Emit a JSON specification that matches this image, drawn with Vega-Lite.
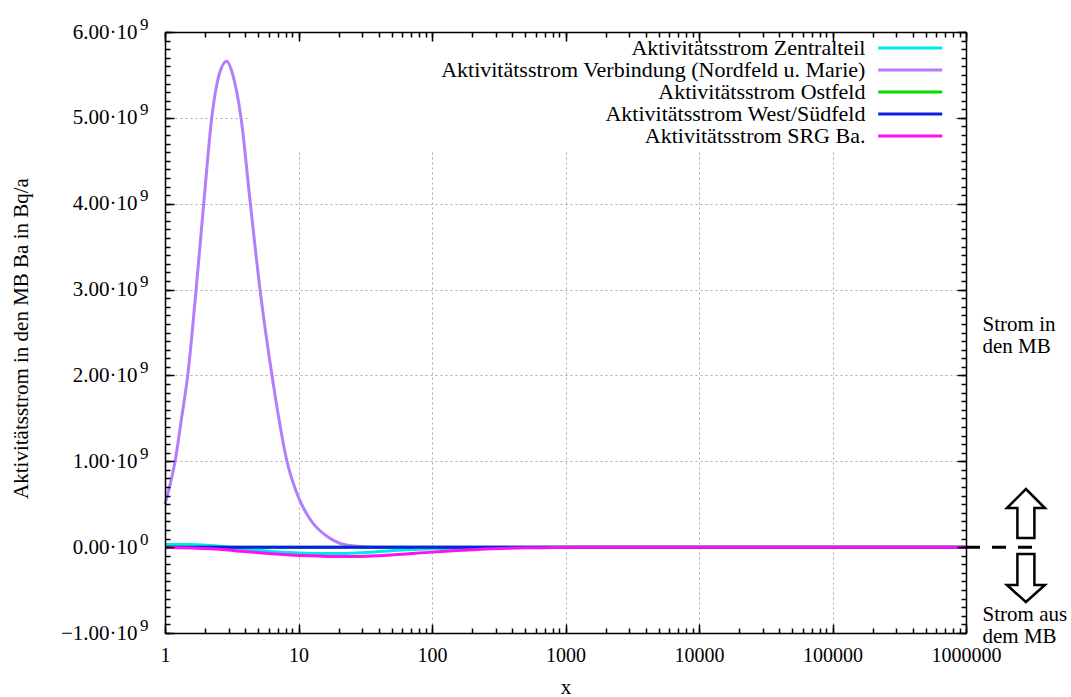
{
  "$schema": "https://vega.github.io/schema/vega-lite/v6.json",
  "width": 801,
  "height": 601,
  "autosize": {"type": "none"},
  "padding": {"left": 165, "top": 32, "right": 105, "bottom": 64},
  "background": "white",
  "config": {
    "view": {"stroke": null},
    "font": "Liberation Serif",
    "axis": {
      "labelFont": "Liberation Serif",
      "titleFont": "Liberation Serif",
      "labelFontSize": 20,
      "titleFontSize": 21,
      "titleFontWeight": "normal",
      "labelColor": "black",
      "titleColor": "black",
      "labelFlush": false,
      "labelOverlap": false
    }
  },
  "datasets": {
    "lines": [
      {"series": "Aktivitätsstrom Zentralteil", "x": 1, "y": 30000000},
      {"series": "Aktivitätsstrom Zentralteil", "x": 1.5, "y": 30000000},
      {"series": "Aktivitätsstrom Zentralteil", "x": 2.2, "y": 18000000},
      {"series": "Aktivitätsstrom Zentralteil", "x": 3.9, "y": -20000000},
      {"series": "Aktivitätsstrom Zentralteil", "x": 6, "y": -48000000},
      {"series": "Aktivitätsstrom Zentralteil", "x": 10, "y": -68000000},
      {"series": "Aktivitätsstrom Zentralteil", "x": 16.5, "y": -75000000},
      {"series": "Aktivitätsstrom Zentralteil", "x": 30, "y": -65000000},
      {"series": "Aktivitätsstrom Zentralteil", "x": 52, "y": -40000000},
      {"series": "Aktivitätsstrom Zentralteil", "x": 100, "y": -20000000},
      {"series": "Aktivitätsstrom Zentralteil", "x": 290, "y": -5000000},
      {"series": "Aktivitätsstrom Zentralteil", "x": 1000, "y": 0},
      {"series": "Aktivitätsstrom Zentralteil", "x": 10000, "y": 0},
      {"series": "Aktivitätsstrom Zentralteil", "x": 100000, "y": 0},
      {"series": "Aktivitätsstrom Zentralteil", "x": 1000000, "y": 0},

      {"series": "Aktivitätsstrom Verbindung (Nordfeld u. Marie)", "x": 1, "y": 500000000},
      {"series": "Aktivitätsstrom Verbindung (Nordfeld u. Marie)", "x": 1.1, "y": 750000000},
      {"series": "Aktivitätsstrom Verbindung (Nordfeld u. Marie)", "x": 1.19, "y": 1000000000},
      {"series": "Aktivitätsstrom Verbindung (Nordfeld u. Marie)", "x": 1.33, "y": 1500000000},
      {"series": "Aktivitätsstrom Verbindung (Nordfeld u. Marie)", "x": 1.48, "y": 2000000000},
      {"series": "Aktivitätsstrom Verbindung (Nordfeld u. Marie)", "x": 1.71, "y": 3000000000},
      {"series": "Aktivitätsstrom Verbindung (Nordfeld u. Marie)", "x": 1.95, "y": 4000000000},
      {"series": "Aktivitätsstrom Verbindung (Nordfeld u. Marie)", "x": 2.24, "y": 5000000000},
      {"series": "Aktivitätsstrom Verbindung (Nordfeld u. Marie)", "x": 2.55, "y": 5510000000},
      {"series": "Aktivitätsstrom Verbindung (Nordfeld u. Marie)", "x": 2.9, "y": 5660000000},
      {"series": "Aktivitätsstrom Verbindung (Nordfeld u. Marie)", "x": 3.21, "y": 5510000000},
      {"series": "Aktivitätsstrom Verbindung (Nordfeld u. Marie)", "x": 3.71, "y": 5000000000},
      {"series": "Aktivitätsstrom Verbindung (Nordfeld u. Marie)", "x": 4.36, "y": 4000000000},
      {"series": "Aktivitätsstrom Verbindung (Nordfeld u. Marie)", "x": 5.15, "y": 3000000000},
      {"series": "Aktivitätsstrom Verbindung (Nordfeld u. Marie)", "x": 6.33, "y": 2000000000},
      {"series": "Aktivitätsstrom Verbindung (Nordfeld u. Marie)", "x": 8.2, "y": 1000000000},
      {"series": "Aktivitätsstrom Verbindung (Nordfeld u. Marie)", "x": 10, "y": 580000000},
      {"series": "Aktivitätsstrom Verbindung (Nordfeld u. Marie)", "x": 12.4, "y": 310000000},
      {"series": "Aktivitätsstrom Verbindung (Nordfeld u. Marie)", "x": 16.5, "y": 120000000},
      {"series": "Aktivitätsstrom Verbindung (Nordfeld u. Marie)", "x": 20.8, "y": 40000000},
      {"series": "Aktivitätsstrom Verbindung (Nordfeld u. Marie)", "x": 27.8, "y": 10000000},
      {"series": "Aktivitätsstrom Verbindung (Nordfeld u. Marie)", "x": 40, "y": 0},
      {"series": "Aktivitätsstrom Verbindung (Nordfeld u. Marie)", "x": 100, "y": 0},
      {"series": "Aktivitätsstrom Verbindung (Nordfeld u. Marie)", "x": 1000, "y": 0},
      {"series": "Aktivitätsstrom Verbindung (Nordfeld u. Marie)", "x": 10000, "y": 0},
      {"series": "Aktivitätsstrom Verbindung (Nordfeld u. Marie)", "x": 100000, "y": 0},
      {"series": "Aktivitätsstrom Verbindung (Nordfeld u. Marie)", "x": 1000000, "y": 0},

      {"series": "Aktivitätsstrom Ostfeld", "x": 1, "y": 0},
      {"series": "Aktivitätsstrom Ostfeld", "x": 10, "y": 0},
      {"series": "Aktivitätsstrom Ostfeld", "x": 100, "y": 0},
      {"series": "Aktivitätsstrom Ostfeld", "x": 1000, "y": 0},
      {"series": "Aktivitätsstrom Ostfeld", "x": 10000, "y": 0},
      {"series": "Aktivitätsstrom Ostfeld", "x": 100000, "y": 0},
      {"series": "Aktivitätsstrom Ostfeld", "x": 1000000, "y": 0},

      {"series": "Aktivitätsstrom West/Südfeld", "x": 1, "y": 0},
      {"series": "Aktivitätsstrom West/Südfeld", "x": 10, "y": 0},
      {"series": "Aktivitätsstrom West/Südfeld", "x": 100, "y": 0},
      {"series": "Aktivitätsstrom West/Südfeld", "x": 1000, "y": 0},
      {"series": "Aktivitätsstrom West/Südfeld", "x": 10000, "y": 0},
      {"series": "Aktivitätsstrom West/Südfeld", "x": 100000, "y": 0},
      {"series": "Aktivitätsstrom West/Südfeld", "x": 1000000, "y": 0},

      {"series": "Aktivitätsstrom SRG Ba.", "x": 1, "y": 0},
      {"series": "Aktivitätsstrom SRG Ba.", "x": 2.2, "y": -20000000},
      {"series": "Aktivitätsstrom SRG Ba.", "x": 3.9, "y": -50000000},
      {"series": "Aktivitätsstrom SRG Ba.", "x": 6, "y": -75000000},
      {"series": "Aktivitätsstrom SRG Ba.", "x": 10, "y": -96000000},
      {"series": "Aktivitätsstrom SRG Ba.", "x": 16.5, "y": -108000000},
      {"series": "Aktivitätsstrom SRG Ba.", "x": 29, "y": -108000000},
      {"series": "Aktivitätsstrom SRG Ba.", "x": 52, "y": -90000000},
      {"series": "Aktivitätsstrom SRG Ba.", "x": 100, "y": -58000000},
      {"series": "Aktivitätsstrom SRG Ba.", "x": 220, "y": -27000000},
      {"series": "Aktivitätsstrom SRG Ba.", "x": 520, "y": -8000000},
      {"series": "Aktivitätsstrom SRG Ba.", "x": 1240, "y": 0},
      {"series": "Aktivitätsstrom SRG Ba.", "x": 10000, "y": 0},
      {"series": "Aktivitätsstrom SRG Ba.", "x": 100000, "y": 0},
      {"series": "Aktivitätsstrom SRG Ba.", "x": 1000000, "y": 0}
    ],
    "box": [{"x1": 4.19, "x2": 813000, "y1": 4610000000, "y2": 6000000000}],
    "notes": [
      {"x": 1330000, "y": 2587000000, "text": "Strom in\nden MB"},
      {"x": 1330000, "y": -791000000, "text": "Strom aus\ndem MB"}
    ],
    "arrows": [
      {"x": 2810000, "y": 386000000, "dir": "up"},
      {"x": 2810000, "y": -360000000, "dir": "down"}
    ],
    "dash": [{"x1": 1000000, "x2": 3180000, "y": 0}]
  },
  "layer": [
    {
      "data": {"name": "lines"},
      "mark": {"type": "point", "opacity": 0},
      "encoding": {
        "x": {"field": "x", "type": "quantitative",
          "scale": {"type": "log", "domain": [1, 1000000], "nice": false},
          "axis": {"orient": "bottom", "values": [1, 10, 100, 1000, 10000, 100000, 1000000], "format": "d",
            "ticks": false, "domain": false, "grid": true, "gridColor": "#aaaaaa", "gridDash": [2, 3], "gridWidth": 1,
            "labelPadding": 12, "title": "x", "titleY": 60, "titleBaseline": "alphabetic", "zindex": 0}},
        "y": {"field": "y", "type": "quantitative",
          "scale": {"domain": [-1000000000, 6000000000], "nice": false, "zero": false},
          "axis": {"orient": "left", "values": [-1000000000, 0, 1000000000, 2000000000, 3000000000, 4000000000, 5000000000, 6000000000],
            "labelExpr": "format(datum.value/1e9,'.2f') + '·10'", "labelFontSize": 21,
            "ticks": false, "domain": false, "grid": true, "gridColor": "#aaaaaa", "gridDash": [2, 3], "gridWidth": 1,
            "labelPadding": 28, "title": "Aktivitätsstrom in den MB Ba in Bq/a", "titleX": -144, "titleY": 306,
            "titleBaseline": "middle", "titleAngle": -90, "zindex": 0}}
      }
    },
    {
      "data": {"name": "lines"},
      "mark": {"type": "point", "opacity": 0},
      "encoding": {
        "x": {"field": "x", "type": "quantitative", "scale": {"type": "log", "domain": [1, 1000000], "nice": false}, "axis": null},
        "y": {"field": "y", "type": "quantitative",
          "scale": {"domain": [-1000000000, 6000000000], "nice": false, "zero": false},
          "axis": {"orient": "left", "values": [-1000000000, 0, 1000000000, 2000000000, 3000000000, 4000000000, 5000000000, 6000000000],
            "labelExpr": "datum.value == 0 ? '0' : '9'", "labelFontSize": 17, "labelPadding": 17, "labelOffset": -8,
            "ticks": false, "domain": false, "grid": false, "title": null, "zindex": 0}}
      }
    },
    {
      "data": {"name": "box"},
      "mark": {"type": "rect", "fill": "white", "strokeWidth": 0},
      "encoding": {
        "x": {"field": "x1", "type": "quantitative", "scale": {"type": "log", "domain": [1, 1000000], "nice": false}, "axis": null},
        "x2": {"field": "x2"},
        "y": {"field": "y1", "type": "quantitative", "scale": {"domain": [-1000000000, 6000000000], "nice": false, "zero": false}, "axis": null},
        "y2": {"field": "y2"}
      }
    },
    {
      "data": {"name": "lines"},
      "mark": {"type": "point", "opacity": 0},
      "encoding": {
        "x": {"field": "x", "type": "quantitative",
          "scale": {"type": "log", "domain": [1, 1000000], "nice": false},
          "axis": {"orient": "bottom", "values": [1, 10, 100, 1000, 10000, 100000, 1000000], "labels": false,
            "ticks": true, "tickSize": -9, "tickWidth": 1.5, "tickColor": "black",
            "domain": true, "domainColor": "black", "domainWidth": 1.5, "grid": false, "title": null, "zindex": 1}},
        "y": {"field": "y", "type": "quantitative",
          "scale": {"domain": [-1000000000, 6000000000], "nice": false, "zero": false},
          "axis": {"orient": "left", "values": [-1000000000, 0, 1000000000, 2000000000, 3000000000, 4000000000, 5000000000, 6000000000], "labels": false,
            "ticks": true, "tickSize": -9, "tickWidth": 1.5, "tickColor": "black",
            "domain": true, "domainColor": "black", "domainWidth": 1.5, "grid": false, "title": null, "zindex": 1}}
      }
    },
    {
      "data": {"name": "lines"},
      "mark": {"type": "point", "opacity": 0},
      "encoding": {
        "x": {"field": "x", "type": "quantitative",
          "scale": {"type": "log", "domain": [1, 1000000], "nice": false},
          "axis": {"orient": "bottom", "labels": false,
            "ticks": true, "tickSize": -5, "tickWidth": 1.5, "tickColor": "black",
            "domain": false, "grid": false, "title": null, "zindex": 1}},
        "y": {"field": "y", "type": "quantitative",
          "scale": {"domain": [-1000000000, 6000000000], "nice": false, "zero": false},
          "axis": {"orient": "left", "tickCount": 70, "labels": false,
            "ticks": true, "tickSize": -5, "tickWidth": 1.5, "tickColor": "black",
            "domain": false, "grid": false, "title": null, "zindex": 1}}
      }
    },
    {
      "data": {"name": "lines"},
      "mark": {"type": "point", "opacity": 0},
      "encoding": {
        "x": {"field": "x", "type": "quantitative",
          "scale": {"type": "log", "domain": [1, 1000000], "nice": false},
          "axis": {"orient": "top", "values": [1, 10, 100, 1000, 10000, 100000, 1000000], "labels": false,
            "ticks": true, "tickSize": -9, "tickWidth": 1.5, "tickColor": "black",
            "domain": true, "domainColor": "black", "domainWidth": 1.5, "grid": false, "title": null, "zindex": 1}},
        "y": {"field": "y", "type": "quantitative",
          "scale": {"domain": [-1000000000, 6000000000], "nice": false, "zero": false},
          "axis": {"orient": "right", "values": [-1000000000, 0, 1000000000, 2000000000, 3000000000, 4000000000, 5000000000, 6000000000], "labels": false,
            "ticks": true, "tickSize": -9, "tickWidth": 1.5, "tickColor": "black",
            "domain": true, "domainColor": "black", "domainWidth": 1.5, "grid": false, "title": null, "zindex": 1}}
      }
    },
    {
      "data": {"name": "lines"},
      "mark": {"type": "point", "opacity": 0},
      "encoding": {
        "x": {"field": "x", "type": "quantitative",
          "scale": {"type": "log", "domain": [1, 1000000], "nice": false},
          "axis": {"orient": "top", "labels": false,
            "ticks": true, "tickSize": -5, "tickWidth": 1.5, "tickColor": "black",
            "domain": false, "grid": false, "title": null, "zindex": 1}},
        "y": {"field": "y", "type": "quantitative",
          "scale": {"domain": [-1000000000, 6000000000], "nice": false, "zero": false},
          "axis": {"orient": "right", "tickCount": 70, "labels": false,
            "ticks": true, "tickSize": -5, "tickWidth": 1.5, "tickColor": "black",
            "domain": false, "grid": false, "title": null, "zindex": 1}}
      }
    },
    {
      "data": {"name": "lines"},
      "mark": {"type": "line", "strokeWidth": 3, "interpolate": "monotone"},
      "encoding": {
        "x": {"field": "x", "type": "quantitative", "scale": {"type": "log", "domain": [1, 1000000], "nice": false}, "axis": null},
        "y": {"field": "y", "type": "quantitative", "scale": {"domain": [-1000000000, 6000000000], "nice": false, "zero": false}, "axis": null},
        "color": {"field": "series", "type": "nominal",
          "scale": {
            "domain": ["Aktivitätsstrom Zentralteil", "Aktivitätsstrom Verbindung (Nordfeld u. Marie)", "Aktivitätsstrom Ostfeld", "Aktivitätsstrom West/Südfeld", "Aktivitätsstrom SRG Ba."],
            "range": ["#00e8ec", "#b47dfa", "#00dd00", "#0a1ee6", "#ff10ee"]
          },
          "legend": {
            "title": null, "orient": "none", "legendX": 734.2, "legendY": 4.9, "padding": 0,
            "symbolType": "M-3.44,0H3.44", "symbolSize": 346, "symbolStrokeWidth": 3,
            "labelFont": "Liberation Serif", "labelFontSize": 22, "labelColor": "black",
            "labelAlign": "right", "labelOffset": -55.8, "labelLimit": 600,
            "rowPadding": 0
          }
        }
      }
    },
    {
      "data": {"name": "dash"},
      "mark": {"type": "rule", "color": "black", "strokeWidth": 3, "strokeDash": [14, 12]},
      "encoding": {
        "x": {"field": "x1", "type": "quantitative", "scale": {"type": "log", "domain": [1, 1000000], "nice": false}, "axis": null},
        "x2": {"field": "x2"},
        "y": {"field": "y", "type": "quantitative", "scale": {"domain": [-1000000000, 6000000000], "nice": false, "zero": false}, "axis": null}
      }
    },
    {
      "data": {"name": "arrows"},
      "mark": {"type": "point", "filled": true, "fill": "white", "stroke": "black", "strokeWidth": 2.5, "opacity": 1, "fillOpacity": 1, "size": 2500},
      "encoding": {
        "x": {"field": "x", "type": "quantitative", "scale": {"type": "log", "domain": [1, 1000000], "nice": false}, "axis": null},
        "y": {"field": "y", "type": "quantitative", "scale": {"domain": [-1000000000, 6000000000], "nice": false, "zero": false}, "axis": null},
        "shape": {"field": "dir", "type": "nominal",
          "scale": {"domain": ["up", "down"], "range": [
            "M0,-1L0.76,-0.24L0.34,-0.24L0.34,0.96L-0.34,0.96L-0.34,-0.24L-0.76,-0.24Z",
            "M0,0.96L0.76,0.28L0.34,0.28L0.34,-0.96L-0.34,-0.96L-0.34,0.28L-0.76,0.28Z"
          ]},
          "legend": null}
      }
    },
    {
      "data": {"name": "notes"},
      "mark": {"type": "text", "align": "left", "baseline": "middle", "font": "Liberation Serif", "fontSize": 21, "lineBreak": "\n", "lineHeight": 22, "color": "black"},
      "encoding": {
        "x": {"field": "x", "type": "quantitative", "scale": {"type": "log", "domain": [1, 1000000], "nice": false}, "axis": null},
        "y": {"field": "y", "type": "quantitative", "scale": {"domain": [-1000000000, 6000000000], "nice": false, "zero": false}, "axis": null},
        "text": {"field": "text"}
      }
    }
  ],
  "resolve": {"axis": {"x": "independent", "y": "independent"}}
}
